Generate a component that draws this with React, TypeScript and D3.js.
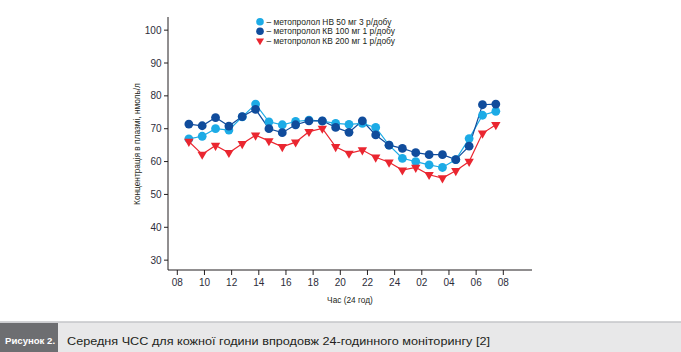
import React from "react";
import * as d3 from "d3";

const hourTicks = ["08", "10", "12", "14", "16", "18", "20", "22", "24", "02", "04", "06", "08"];
const yTicks = [30, 40, 50, 60, 70, 80, 90, 100];

// hourly points, 09:00 .. 08:00 next day
const seriesNames = [
  "– метопролол НВ 50 мг 3 р/добу",
  "– метопролол КВ 100 мг 1 р/добу",
  "– метопролол КВ 200 мг 1 р/добу",
];
const lightBlue = [66.9, 67.7, 70.0, 69.6, 73.6, 77.5, 72.1, 71.2, 72.2, 72.6, 72.3, 71.6, 71.3, 71.6, 70.4, 65.0, 61.0, 60.0, 59.0, 58.2, 60.6, 67.0, 74.1, 75.3];
const darkBlue = [71.4, 70.9, 73.4, 70.8, 73.7, 75.9, 70.0, 68.8, 71.2, 72.4, 72.4, 70.4, 68.9, 72.4, 68.1, 65.0, 64.0, 62.7, 62.1, 62.1, 60.6, 64.7, 77.3, 77.5];
const redSeries = [66.1, 62.2, 64.9, 62.7, 65.4, 68.0, 66.3, 64.5, 65.9, 69.1, 70.1, 64.5, 62.5, 63.5, 61.3, 59.8, 57.4, 58.2, 56.0, 55.0, 57.2, 60.0, 68.6, 71.2];

const colors = ["#1cabe6", "#104c9c", "#ea2630"];
const FONT = "'Liberation Sans', Arial, sans-serif";

export default function App() {
  const W = 681, H = 352;
  const axisLeft = 168, axisRight = 532, axisTop = 17, axisBottom = 270;

  const x = d3.scaleLinear().domain([0, 24]).range([177.3, 503.3]);
  const xData = d3.scaleLinear().domain([0, darkBlue.length - 1]).range([x(0.85), x(23.45)]);
  const y = d3.scaleLinear().domain([27, 104]).range([axisBottom, axisTop]);

  const line = d3.line<number>().x((_, i) => xData(i)).y((v) => y(v));
  const tri = d3.symbol().type(d3.symbolTriangle).size(38)();

  const series = [lightBlue, darkBlue, redSeries];

  return (
    <svg width={W} height={H} style={{ position: "absolute", left: 0, top: 0, background: "#fff" }} fontFamily={FONT}>
      {/* axes */}
      <line x1={axisLeft} x2={axisLeft} y1={axisTop} y2={axisBottom} stroke="#231f20" strokeWidth={1} />
      <line x1={axisLeft} x2={axisRight} y1={axisBottom} y2={axisBottom} stroke="#231f20" strokeWidth={1} />
      {yTicks.map((t) => (
        <g key={t} transform={`translate(${axisLeft},${y(t)})`}>
          <line x1={-4} x2={0} stroke="#231f20" />
          <text x={-6.5} dy="0.35em" textAnchor="end" fontSize={10} fill="#2d2d3a">{t}</text>
        </g>
      ))}
      {hourTicks.map((t, i) => (
        <g key={i} transform={`translate(${x(i * 2)},${axisBottom})`}>
          <line y1={0} y2={5} stroke="#231f20" />
          <text y={16} textAnchor="middle" fontSize={10} fill="#2d2d3a">{t}</text>
        </g>
      ))}
      <text x={350} y={303} textAnchor="middle" fontSize={8.3} fill="#231f20">Час (24 год)</text>
      <text transform={`translate(140,${144}) rotate(-90)`} textAnchor="middle" fontSize={8.3} fill="#231f20">
        Концентрація в плазмі, нмоль/л
      </text>

      {/* lines */}
      {series.map((s, k) => (
        <path key={k} d={line(s) || ""} fill="none" stroke={colors[k]} strokeWidth={1.2} />
      ))}
      {/* markers */}
      {lightBlue.map((v, i) => (
        <circle key={"l" + i} cx={xData(i)} cy={y(v)} r={4.4} fill={colors[0]} />
      ))}
      {darkBlue.map((v, i) => (
        <circle key={"d" + i} cx={xData(i)} cy={y(v)} r={4.4} fill={colors[1]} />
      ))}
      {redSeries.map((v, i) => (
        <path key={"r" + i} d={tri || ""} transform={`translate(${xData(i)},${y(v)}) rotate(180)`} fill={colors[2]} />
      ))}

      {/* legend */}
      {seriesNames.map((n, k) => (
        <g key={n} transform={`translate(260,${21.7 + k * 9.5})`}>
          {k < 2 ? (
            <circle r={3.8} fill={colors[k]} />
          ) : (
            <path d={d3.symbol().type(d3.symbolTriangle).size(28)() || ""} transform="rotate(180)" fill={colors[2]} />
          )}
          <text x={6.5} dy="0.35em" fontSize={8.4} fill="#231f20">{n}</text>
        </g>
      ))}

      {/* caption */}
      <rect x={0} y={322} width={W} height={30} fill="#e8e8e9" />
      <line x1={0} x2={W} y1={322} y2={322} stroke="#c5c6c8" strokeWidth={1.5} />
      <rect x={0} y={323} width={58} height={29} fill="#6d6e71" />
      <text x={5} y={344} fontSize={9.6} fontWeight="bold" fill="#ffffff">Рисунок 2.</text>
      <text x={67} y={344.5} fontSize={11.5} fill="#231f20" textLength={423} lengthAdjust="spacingAndGlyphs">Середня ЧСС для кожної години впродовж 24-годинного моніторингу [2]</text>
    </svg>
  );
}
